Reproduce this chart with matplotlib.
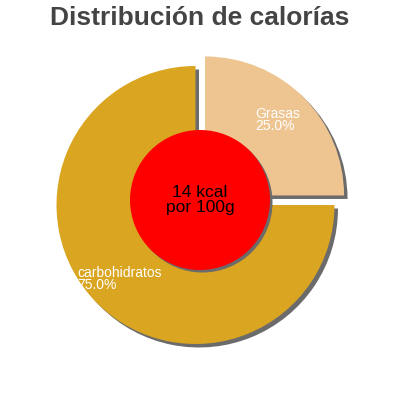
import matplotlib
matplotlib.use('Agg')
import matplotlib.pyplot as plt

plt.rcParams['font.family'] = ['Liberation Sans', 'DejaVu Sans']

title = 'Distribución de calorías'
labels = ['Grasas', 'carbohidratos']
percent = [25.0, 75.0]
colors = ['#EEC591', '#DAA520']
energy = '14 kcal\npor 100g'

fig = plt.figure(figsize=(4, 4), dpi=100)
ax = fig.add_axes([0, 0, 1, 1])

cx, cy, r = 195.5, 195, 139
# pie offsets exploded slices in data units here
explode = [13.5, 0]

# shadow first, then the real slices
ax.pie(percent, colors=['#6b6b6b'] * 2, startangle=0, explode=explode,
       center=(cx + 3.5, cy - 3.5), radius=r, frame=True,
       wedgeprops={'linewidth': 0})
ax.pie(percent, colors=colors, startangle=0, explode=explode,
       center=(cx, cy), radius=r, frame=True,
       wedgeprops={'linewidth': 0})
ax.set_xlim(0, 400)
ax.set_ylim(0, 400)
ax.set_aspect('equal')
ax.axis('off')

ax.add_patch(plt.Circle((202.5, 197.5), 70, color='#6b6b6b', lw=0, zorder=3))
ax.add_patch(plt.Circle((200, 200), 70, color='#FF0000', lw=0, zorder=4))
ax.text(200, 200, energy, ha='center', va='center', fontsize=12.5,
        color='black', zorder=5, linespacing=1.0)

ax.text(255, 280, f'{labels[0]}\n{percent[0]:.1f}%', ha='left', va='center',
        fontsize=10, color='white', linespacing=0.9, zorder=5)
ax.text(77, 121, f'{labels[1]}\n{percent[1]:.1f}%', ha='left', va='center',
        fontsize=10, color='white', linespacing=0.9, zorder=5)

fig.text(0.5, 0.955, title, ha='center', va='center', fontsize=19,
         fontweight='bold', color='#444444')

fig.savefig('out.png', dpi=100)
